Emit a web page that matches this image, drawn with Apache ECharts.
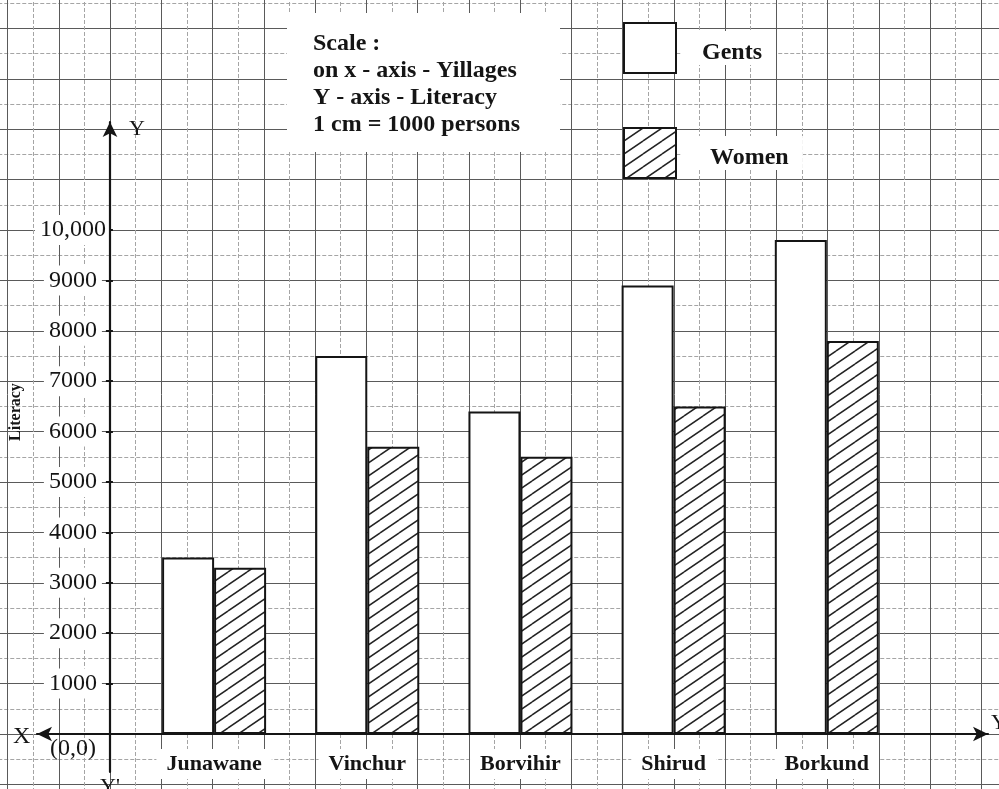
<!DOCTYPE html>
<html>
<head>
<meta charset="utf-8">
<script src="https://cdn.jsdelivr.net/npm/echarts@6/dist/echarts.min.js"></script>
<style>html,body{margin:0;padding:0;background:#fff;}#c{width:999px;height:789px;}</style>
</head>
<body>
<div id="c"></div>
<script>
const villages = ['Junawane', 'Vinchur', 'Borvihir', 'Shirud', 'Borkund'];
const gentsValues = [3500, 7500, 6400, 8900, 9800];
const womenValues = [3300, 5700, 5500, 6500, 7800];
const yTickLabels = ['', '1000', '2000', '3000', '4000', '5000', '6000', '7000', '8000', '9000', '10,000'];
const scaleNote = ['Scale :', 'on x - axis - Yillages', 'Y - axis - Literacy', '1 cm = 1000 persons'];

const SERIF = '"Liberation Serif", "DejaVu Serif", serif';
const INK = '#151515';

// diagonal hatch pattern
function makeHatch() {
  const W = 19, H = 13;
  const cv = document.createElement('canvas');
  cv.width = W; cv.height = H;
  const ctx = cv.getContext('2d');
  ctx.fillStyle = '#ffffff';
  ctx.fillRect(0, 0, W, H);
  ctx.strokeStyle = '#222';
  ctx.lineWidth = 1.5;
  [[0,0],[-W,0],[W,0],[0,-H],[0,H]].forEach(([dx,dy]) => {
    ctx.beginPath();
    ctx.moveTo(0 + dx, H + dy);
    ctx.lineTo(W + dx, 0 + dy);
    ctx.stroke();
  });
  return cv;
}
const hatch = { image: makeHatch(), repeat: 'repeat' };

const chart = echarts.init(document.getElementById('c'), null, { renderer: 'canvas' });

const hidden = { axisLine: { show: false }, axisTick: { show: false }, axisLabel: { show: false }, splitLine: { show: false } };

function smallText(text, left, top, size) {
  return { text: text, left: left, top: top, padding: 0,
    textStyle: { fontFamily: SERIF, fontWeight: 'normal', fontSize: size || 22, color: INK } };
}

const legendTextBase = { fontFamily: SERIF, fontWeight: 'bold', fontSize: 24, color: INK, backgroundColor: '#fff' };

const option = {
  backgroundColor: '#ffffff',
  animation: false,
  title: [
    { text: scaleNote.join('\n'), left: 287, top: 13, padding: [17, 40, 14, 26], backgroundColor: '#fff',
      textStyle: { fontFamily: SERIF, fontWeight: 'bold', fontSize: 24, color: INK, lineHeight: 27 } },
    smallText('X', 13, 725, 24),
    smallText('Y', 129, 118),
    smallText('(0,0)', 50, 737, 24),
    smallText("Y'", 100, 776),
    smallText("Y'", 991, 712)
  ],
  legend: {
    orient: 'vertical', left: 623, top: 22, padding: 0,
    itemWidth: 52, itemHeight: 50, itemGap: 53,
    icon: 'rect', selectedMode: false,
    itemStyle: { borderColor: INK, borderWidth: 2 },
    formatter: name => (name === 'Women' ? '{w|' + name + '}' : '{g|' + name + '}'),
    textStyle: Object.assign({}, legendTextBase, {
      rich: {
        g: Object.assign({}, legendTextBase, { padding: [10, 14, 0, 21] }),
        w: Object.assign({}, legendTextBase, { padding: [10, 14, 0, 29] })
      }
    }),
    data: ['Gents', 'Women']
  },
  grid: [
    { left: 134.6, right: 95.6, top: 230, bottom: 55 },
    { left: 37, right: 11, top: 122, bottom: 17 },
    { left: -43.75, right: -33.5, top: -22, bottom: -45.8, outerBoundsMode: 'none' }
  ],
  xAxis: [
    { type: 'category', gridIndex: 0, data: villages, z: 5,
      axisLine: { show: false }, axisTick: { show: false }, splitLine: { show: false },
      axisLabel: { fontFamily: SERIF, fontWeight: 'bold', fontSize: 22, color: INK, margin: 15,
        backgroundColor: '#fff', padding: [4, 10] } },
    Object.assign({ type: 'value', gridIndex: 1, min: -73, max: 878, z: 6 }, hidden, {
      axisLine: { show: true, onZero: true, symbol: ['arrow', 'arrow'], symbolSize: [11, 15],
        lineStyle: { color: INK, width: 2.2 } } }),
    Object.assign({ type: 'value', gridIndex: 2, min: -3, max: 18, interval: 1, z: 0 }, hidden, {
      splitLine: { show: true, lineStyle: { color: '#5a5a5a', width: 1 } },
      minorTick: { show: false, splitNumber: 2 },
      minorSplitLine: { show: true, lineStyle: { color: '#a5a5a5', width: 1, type: 'dashed' } } })
  ],
  yAxis: [
    { type: 'value', gridIndex: 0, min: 0, max: 10000, interval: 1000, offset: 24.6, z: 5,
      axisLine: { show: false }, splitLine: { show: false },
      axisTick: { show: true, length: 7, lineStyle: { color: INK, width: 2 } },
      axisLabel: { fontFamily: SERIF, fontSize: 24, color: INK, align: 'center', margin: 40,
        backgroundColor: '#fff', padding: [3, 5],
        formatter: (v, i) => yTickLabels[i] },
      name: 'Literacy', nameLocation: 'middle', nameRotate: 90, nameGap: 73,
      nameTextStyle: { fontFamily: SERIF, fontWeight: 'bold', fontSize: 16, color: INK, padding: [0, 0, 0, 140] } },
    Object.assign({ type: 'value', gridIndex: 1, min: -38, max: 612, z: 6 }, hidden, {
      axisLine: { show: true, onZero: true, symbol: ['none', 'arrow'], symbolSize: [11, 15],
        lineStyle: { color: INK, width: 2.2 } } }),
    Object.assign({ type: 'value', gridIndex: 2, min: -2, max: 15, interval: 1, z: 0 }, hidden, {
      splitLine: { show: true, lineStyle: { color: '#5a5a5a', width: 1 } },
      minorTick: { show: false, splitNumber: 2 },
      minorSplitLine: { show: true, lineStyle: { color: '#a5a5a5', width: 1, type: 'dashed' } } })
  ],
  series: [
    { name: 'Gents', type: 'bar', xAxisIndex: 0, yAxisIndex: 0, data: gentsValues,
      barWidth: 52, barGap: '0%', z: 3,
      itemStyle: { color: '#ffffff', borderColor: INK, borderWidth: 2 } },
    { name: 'Women', type: 'bar', xAxisIndex: 0, yAxisIndex: 0, data: womenValues,
      barWidth: 52, barGap: '0%', z: 3,
      itemStyle: { color: hatch, borderColor: INK, borderWidth: 2 } }
  ]
};
chart.setOption(option);
</script>
</body>
</html>
